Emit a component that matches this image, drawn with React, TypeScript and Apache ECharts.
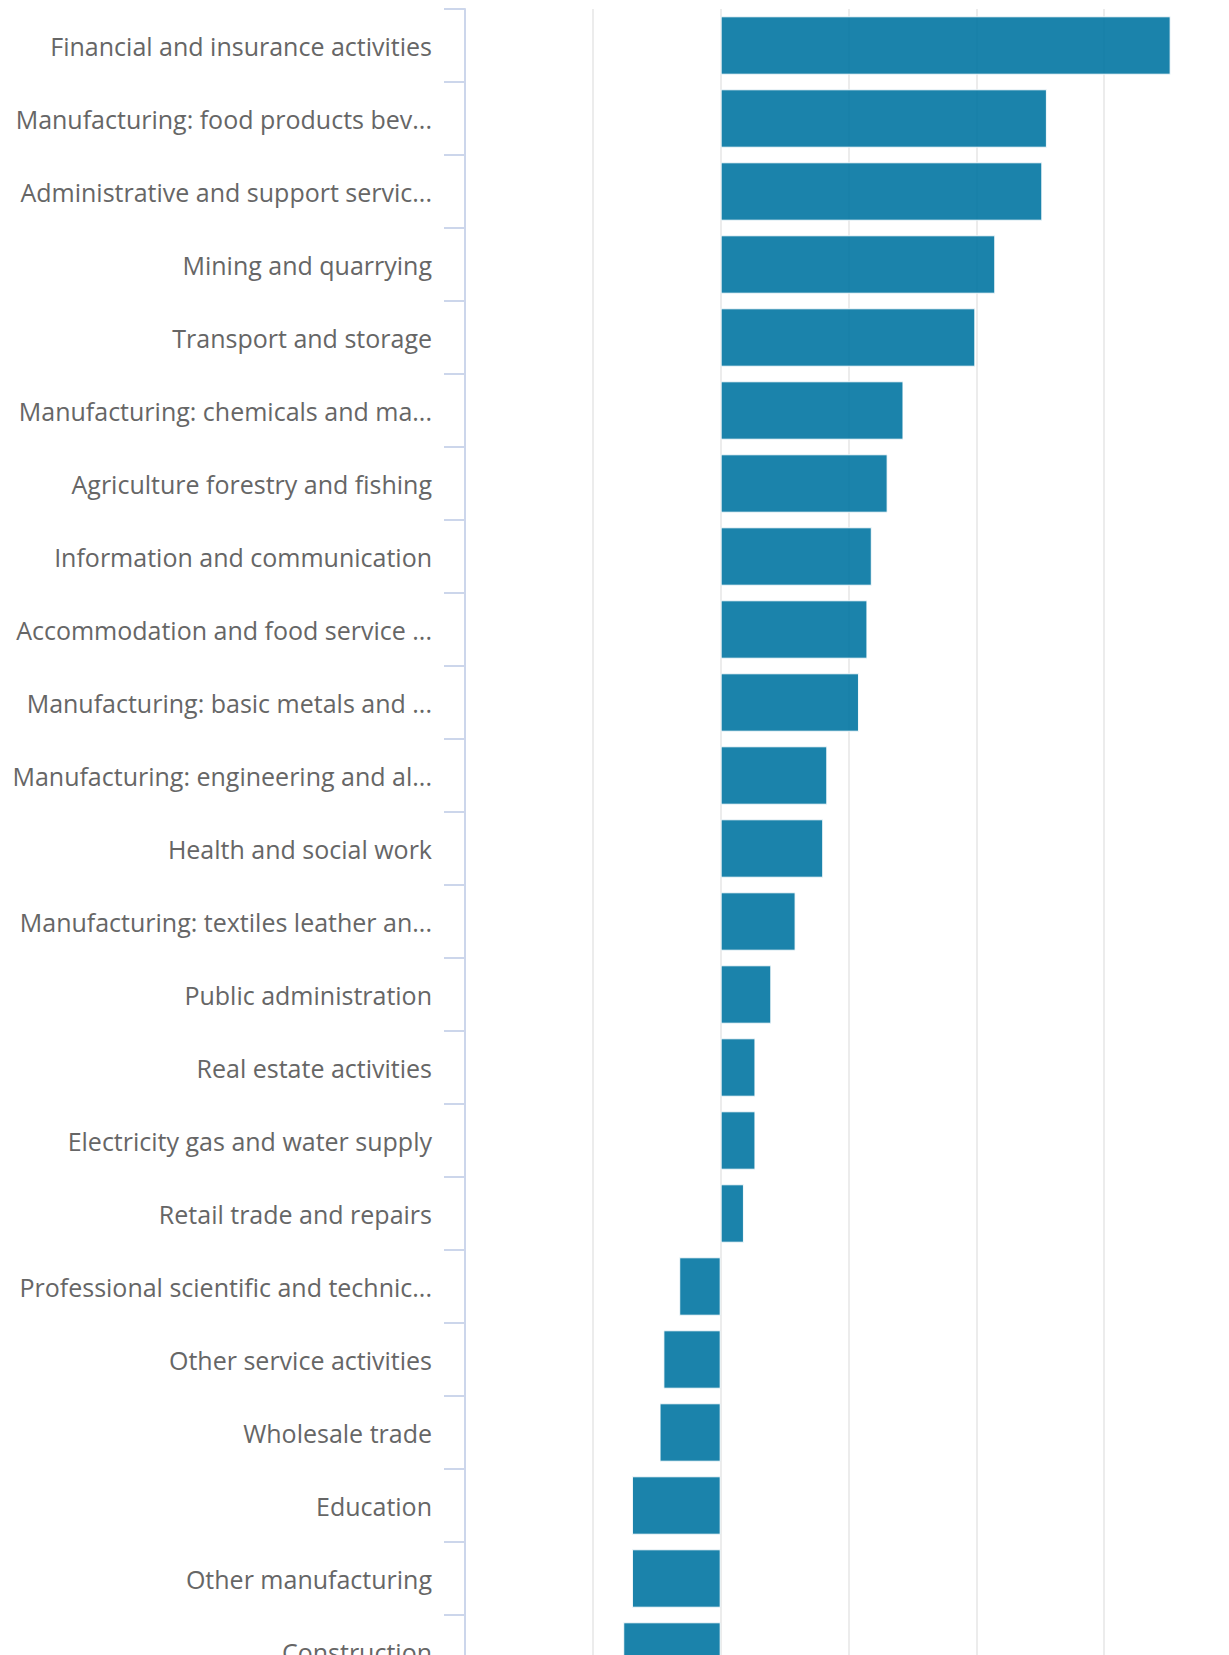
import React, { useEffect, useRef } from "react";
import * as echarts from "echarts";

const categories: string[] = [
  "Financial and insurance activities",
  "Manufacturing: food products beverages and tobacco",
  "Administrative and support service activities",
  "Mining and quarrying",
  "Transport and storage",
  "Manufacturing: chemicals and manufactured fuels",
  "Agriculture forestry and fishing",
  "Information and communication",
  "Accommodation and food service activities",
  "Manufacturing: basic metals and metal products",
  "Manufacturing: engineering and allied industries",
  "Health and social work",
  "Manufacturing: textiles leather and clothing",
  "Public administration",
  "Real estate activities",
  "Electricity gas and water supply",
  "Retail trade and repairs",
  "Professional scientific and technical activities",
  "Other service activities",
  "Wholesale trade",
  "Education",
  "Other manufacturing",
  "Construction",
];

const values: number[] = [
  17.6, 12.76, 12.58, 10.74, 9.96, 7.15, 6.53, 5.91, 5.74, 5.41, 4.17, 4.01,
  2.93, 1.98, 1.36, 1.36, 0.91, -1.62, -2.24, -2.39, -3.47, -3.47, -3.81,
];

const xTicks = { min: -10, max: 20, interval: 5 };

export default function App() {
  const ref = useRef<HTMLDivElement>(null);

  useEffect(() => {
    if (!ref.current) return;
    const chart = echarts.init(ref.current, undefined, { renderer: "svg" });
    chart.setOption({
      animation: false,
      grid: { left: 465, top: 9, width: 767, height: 73 * categories.length },
      xAxis: {
        type: "value",
        min: xTicks.min,
        max: xTicks.max,
        interval: xTicks.interval,
        axisLine: { show: false },
        axisTick: { show: false },
        splitLine: { show: true, lineStyle: { color: "#e6e6e6", width: 1.5 } },
        axisLabel: { show: false },
      },
      yAxis: {
        type: "category",
        inverse: true,
        data: categories,
        axisLine: {
          show: true,
          onZero: false,
          lineStyle: { color: "#ccd6eb", width: 2 },
        },
        axisTick: {
          show: true,
          inside: false,
          alignWithLabel: false,
          length: 21,
          lineStyle: { color: "#ccd6eb", width: 2 },
        },
        axisLabel: {
          margin: 33,
          color: "#666666",
          fontFamily: "Open Sans",
          fontSize: 25,
          width: 422,
          overflow: "truncate",
          ellipsis: "...",
          padding: [8, 0, 0, 0],
        },
        splitLine: { show: false },
      },
      series: [
        {
          type: "bar",
          data: values,
          barCategoryGap: "20%",
          itemStyle: {
            color: "rgb(2,118,162)",
            opacity: 0.9,
            borderColor: "#ffffff",
            borderWidth: 1,
          },
        },
      ],
    });
    return () => chart.dispose();
  }, []);

  return (
    <div
      style={{
        position: "fixed",
        top: 0,
        left: 0,
        width: 1229,
        height: 1655,
        overflow: "hidden",
        background: "#ffffff",
      }}
    >
      <div ref={ref} style={{ width: 1250, height: 1780 }} />
    </div>
  );
}
